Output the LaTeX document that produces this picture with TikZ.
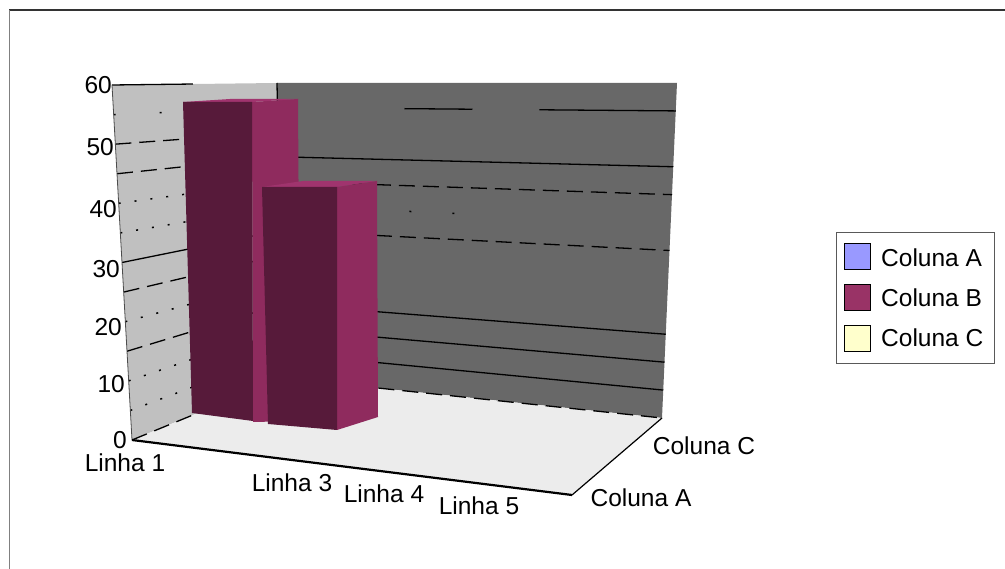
\documentclass[tikz,border=0pt]{standalone}
\usepackage{fontspec}
\setmainfont{Liberation Sans}
\definecolor{leftwall}{RGB}{192,192,192}
\definecolor{backwall}{RGB}{104,104,104}
\definecolor{floorgray}{RGB}{236,236,236}
\definecolor{barfront}{RGB}{87,26,58}
\definecolor{barside}{RGB}{143,43,94}
\definecolor{bartop}{RGB}{160,52,110}
\definecolor{colA}{RGB}{153,153,255}
\definecolor{colB}{RGB}{153,51,102}
\definecolor{colC}{RGB}{255,255,204}
\tikzset{
  gsolid/.style={black,line width=1.3pt},
  gdash/.style={black,line width=1.3pt,dash pattern=on 16pt off 8pt},
  gdot/.style={black,line width=1.5pt,dash pattern=on 2pt off 14pt},
  gspot/.style={black,line width=1.5pt,dash pattern=on 2pt off 44pt},
  gpair/.style={black,line width=1.5pt,dash pattern=on 2pt off 41pt on 2pt off 400pt,dash phase=315pt},
  gnone/.style={draw=none},
  gtop/.style={black,line width=1.3pt,dash pattern=on 81pt off 300pt},
  glong/.style={black,line width=1.3pt,dash pattern=on 68pt off 67pt on 140pt off 127pt,dash phase=275pt},
  lab/.style={inner sep=0pt,font=\fontsize{24.5}{29}\selectfont},
  key/.style={draw=black,line width=0.8pt,minimum size=26pt,inner sep=0pt}
}
\begin{document}
\begin{tikzpicture}[x=1pt,y=-1pt]
    \useasboundingbox (0,0) rectangle (1005,569);
    % frame
    \draw[black!80,line width=1.2pt] (9,10) -- (1005,10);
    \draw[gray,line width=1pt] (9,10) -- (9,569);
    % walls and floor
    \coordinate (lwtop) at (112,85);
    \coordinate (ctop) at (277,83);
    \coordinate (rtop) at (677,83);
    \coordinate (lwbot) at (132,440);
    \coordinate (cbot) at (283,378);
    \coordinate (rbot) at (662,418);
    \coordinate (fr) at (572,495);
    \fill[leftwall] (lwtop) -- (ctop) -- (cbot) -- (lwbot) -- cycle;
    \fill[backwall] (ctop) -- (rtop) -- (rbot) -- (cbot) -- cycle;
    \fill[floorgray] (lwbot) -- (cbot) -- (rbot) -- (fr) -- cycle;
    % grid lines
    \foreach \v/\ls/\bs in {0/gdash/gdash,5/gdot/gsolid,10/gdot/gsolid,15/gdash/gsolid,
        20/gdot/gnone,25/gdash/gnone,30/gsolid/gdash,35/gdot/gpair,40/gdot/gdash,
        45/gdash/gsolid,50/gdash/gnone,55/gspot/glong,60/gtop/gnone}{
        \draw[\ls] ({132-\v/3},{440-\v/60*355}) -- ({283-\v/10},{378-\v/60*295});
        \draw[\bs] ({283-\v/10},{378-\v/60*295}) -- ({662+\v/4},{418-\v/60*335});
    }
    \draw[gray!60!black,line width=0.8pt] (lwtop) -- (lwbot);
    \draw[black,line width=1.3pt] (ctop) -- (cbot);
    \draw[black,line width=2.2pt] (lwbot) -- (fr);
    \draw[black,line width=1.2pt] (fr) -- (rbot);
    % bar 1
    \fill[barside] (252,102) -- (298,99) -- (300,421) -- (253,422) -- cycle;
    \fill[bartop] (183,102) -- (230,99) -- (298,99) -- (252,102) -- cycle;
    \fill[barfront] (183,102) -- (252,102) -- (253,421) -- (192,413) -- cycle;
    % bar 2
    \fill[bartop] (262,187) -- (303,181) -- (377,181) -- (337,187) -- cycle;
    \fill[barside] (337,187) -- (377,181) -- (378,417) -- (337,430) -- cycle;
    \fill[barfront] (262,187) -- (337,187) -- (337,430) -- (268,424) -- cycle;
    % axis labels
    \foreach \t/\x/\y in {0/127/440,10/125/384,20/122/327,30/120/269,40/117/209,50/114/147,60/112/85}
        \node[lab,anchor=east] (t\t) at (\x,\y) {\t};
    \node[lab] (lin1) at (125,463) {Linha 1};
    \node[lab] (lin3) at (292,483) {Linha 3};
    \node[lab] (lin4) at (384,494) {Linha 4};
    \node[lab] (lin5) at (479,506) {Linha 5};
    \node[lab] (colc) at (704,446) {Coluna C};
    \node[lab] (cola) at (641,498) {Coluna A};
    % legend
    \draw[gray!70!black,line width=0.8pt] (836,232) rectangle (994,363);
    \node[key,fill=colA] (kA) at (857,256) {};
    \node[key,fill=colB] (kB) at (857,297) {};
    \node[key,fill=colC] (kC) at (857,338) {};
    \node[lab,anchor=west] (tA) at (881,258) {Coluna A};
    \node[lab,anchor=west] (tB) at (881,298) {Coluna B};
    \node[lab,anchor=west] (tC) at (881,338) {Coluna C};
\end{tikzpicture}
\end{document}
